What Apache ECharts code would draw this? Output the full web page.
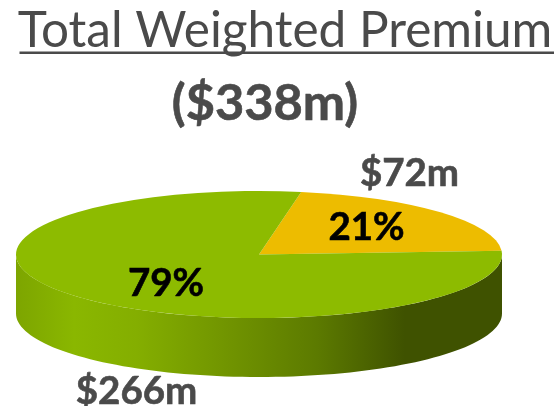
<!DOCTYPE html>
<html>
<head>
<meta charset="utf-8">
<style>html,body{margin:0;padding:0;background:#fff}#c{width:557px;height:406px}</style>
<script src="https://cdn.jsdelivr.net/npm/echarts@6/dist/echarts.min.js"></script>
</head>
<body>
<div id="c"></div>
<script>
var titleText = 'Total Weighted Premium';
var subtitleText = '($338m)';
var categories = ['Other', 'Main'];
var premiums = [72, 266];
var percentLabels = ['21%', '79%'];
var amountLabels = ['$72m', '$266m'];
var sliceColors = ['#EDBC00', '#8DBB00'];

var total = premiums[0] + premiums[1];
var FONT = 'Lato, "Open Sans", sans-serif';
var GREY = '#4a4a4a';
var CX = 259, CY = 254.5, RX = 243, RY = 63.5, DEPTH = 59;
var START = -80 * Math.PI / 180;
var LABEL_POS = [
  {pct: [366.5, 228], amt: [409.5, 174]},
  {pct: [166, 284], amt: [136.5, 392]}
];

function sidePoints() {
  var pts = [], i, a;
  for (i = 0; i <= 90; i++) {
    a = Math.PI * i / 90;
    pts.push([CX + RX * Math.cos(a), CY + RY * Math.sin(a)]);
  }
  for (i = 90; i >= 0; i--) {
    a = Math.PI * i / 90;
    pts.push([CX + RX * Math.cos(a), CY + DEPTH + RY * Math.sin(a)]);
  }
  return pts;
}

function textEl(x, y, text, size, fill) {
  return {
    type: 'text',
    z2: 10,
    style: {
      x: x, y: y, text: text, align: 'center', verticalAlign: 'middle',
      font: 'bold ' + size + 'px ' + FONT, fill: fill, stroke: fill, lineWidth: 0.6
    }
  };
}

function renderItem(params, api) {
  var idx = params.dataIndex;
  var before = 0;
  for (var i = 0; i < idx; i++) before += premiums[i];
  var a0 = START + before / total * Math.PI * 2;
  var a1 = a0 + api.value(1) / total * Math.PI * 2;
  var children = [];
  if (idx === 0) {
    children.push({
      type: 'polygon',
      shape: {points: sidePoints()},
      style: {
        fill: new echarts.graphic.LinearGradient(16, 0, 502, 0, [
          {offset: 0, color: '#7da500'},
          {offset: 0.12, color: '#8ab700'},
          {offset: 0.25, color: '#84ae00'},
          {offset: 0.45, color: '#6f9200'},
          {offset: 0.62, color: '#5c7a00'},
          {offset: 0.8, color: '#3f5200'},
          {offset: 1, color: '#3f5200'}
        ], true)
      }
    });
  }
  children.push({
    type: 'sector',
    x: CX, y: CY,
    scaleY: RY / RX,
    shape: {cx: 0, cy: 0, r: RX, r0: 0, startAngle: a0, endAngle: a1, clockwise: true},
    style: {fill: sliceColors[idx]}
  });
  children.push(textEl(LABEL_POS[idx].pct[0], LABEL_POS[idx].pct[1], percentLabels[idx], 38.5, '#000'));
  children.push(textEl(LABEL_POS[idx].amt[0], LABEL_POS[idx].amt[1], amountLabels[idx], 38.5, GREY));
  return {type: 'group', children: children};
}

var chart = echarts.init(document.getElementById('c'), null, {renderer: 'canvas'});
chart.setOption({
  animation: false,
  backgroundColor: '#fff',
  title: [
    {text: titleText, left: 280, top: 1, textAlign: 'center',
     textStyle: {fontFamily: FONT, fontWeight: 'normal', fontSize: 49.5, color: GREY}},
    {text: subtitleText, left: 260, top: 73, textAlign: 'center',
     textStyle: {fontFamily: FONT, fontWeight: 'bold', fontSize: 50.5, color: GREY, textBorderColor: GREY, textBorderWidth: 0.6}}
  ],
  graphic: [{type: 'rect', shape: {x: 19.5, y: 51.5, width: 534.5, height: 2.5}, style: {fill: GREY}}],
  series: [{
    type: 'custom',
    coordinateSystem: 'none',
    renderItem: renderItem,
    data: categories.map(function (c, i) { return {name: c, value: [i, premiums[i]]}; })
  }]
});
</script>
</body>
</html>
